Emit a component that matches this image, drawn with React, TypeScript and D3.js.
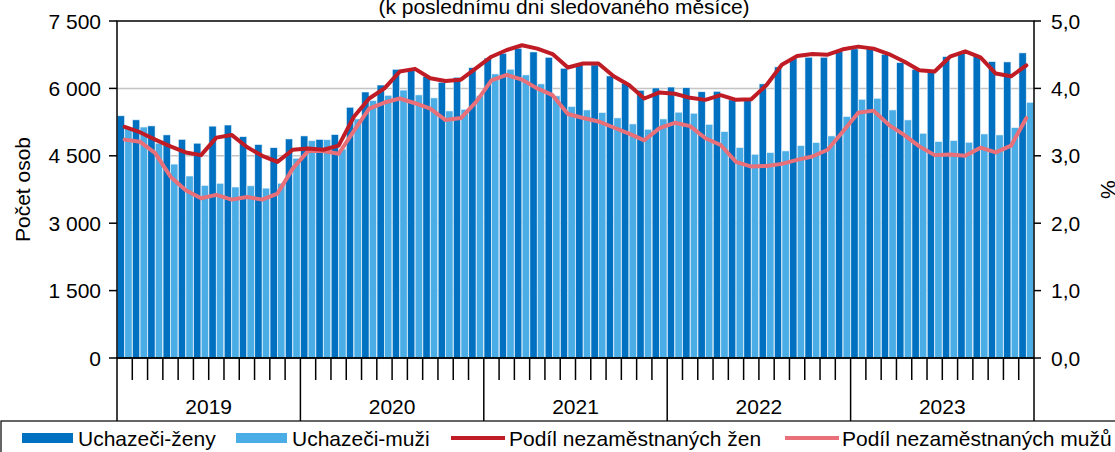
import React from "react";
import * as d3 from "d3";

const years = ["2019", "2020", "2021", "2022", "2023"];
const months = d3.range(60).map((i) => `${years[Math.floor(i / 12)]}-${(i % 12) + 1}`);

const women = [
  5390, 5300, 5165, 4965, 4865, 4780, 5160, 5185, 4925, 4750, 4680, 4875,
  4942, 4865, 4972, 5580, 5920, 6075, 6425, 6430, 6263, 6137, 6248, 6462,
  6675, 6781, 6893, 6811, 6692, 6448, 6522, 6522, 6277, 6114, 5958, 6010,
  6030, 6015, 5925, 5935, 5744, 5744, 6100, 6478, 6671, 6693, 6693, 6819,
  6880, 6915, 6760, 6574, 6426, 6374, 6708, 6782, 6708, 6597, 6589, 6790,
];
const men = [
  5130, 5140, 4780, 4315, 4050, 3840, 3888, 3805, 3832, 3780, 3890, 4445,
  4835, 4857, 4650, 5320, 5728, 5847, 5962, 5855, 5788, 5498, 5535, 5840,
  6322, 6426, 6300, 6100, 5833, 5596, 5520, 5461, 5343, 5209, 5090, 5320,
  5470, 5447, 5201, 5038, 4682, 4534, 4571, 4608, 4727, 4794, 4942, 5372,
  5758, 5780, 5520, 5298, 5001, 4816, 4838, 4801, 4986, 4964, 5127, 5690,
];
const womenPct = [
  3.43, 3.35, 3.24, 3.14, 3.05, 3.01, 3.27, 3.31, 3.13, 3.0, 2.91, 3.09,
  3.11, 3.09, 3.15, 3.58, 3.85, 4.0, 4.25, 4.29, 4.15, 4.11, 4.13, 4.3,
  4.47, 4.57, 4.64, 4.59, 4.51, 4.31, 4.37, 4.37, 4.18, 4.05, 3.85, 3.94,
  3.92, 3.86, 3.83, 3.9, 3.83, 3.84, 4.05, 4.35, 4.48, 4.51, 4.5, 4.58,
  4.62, 4.59, 4.51, 4.4, 4.27, 4.25, 4.47, 4.55, 4.46, 4.22, 4.18, 4.34,
];
const menPct = [
  3.24, 3.21, 3.04, 2.69, 2.49, 2.37, 2.42, 2.35, 2.39, 2.35, 2.44, 2.81,
  3.07, 3.07, 3.03, 3.37, 3.7, 3.79, 3.85, 3.78, 3.7, 3.53, 3.56, 3.8,
  4.12, 4.2, 4.13, 4.0, 3.9, 3.62, 3.56, 3.51, 3.42, 3.33, 3.23, 3.41,
  3.49, 3.44, 3.26, 3.16, 2.91, 2.84, 2.85, 2.88, 2.94, 2.99, 3.09, 3.36,
  3.64, 3.67, 3.46, 3.31, 3.14, 3.01, 3.02, 3.0, 3.12, 3.05, 3.15, 3.56,
];
const leftTicks = [0, 1500, 3000, 4500, 6000, 7500];
const rightTicks = [0, 1, 2, 3, 4, 5];
const seriesNames = ["Uchazeči-ženy", "Uchazeči-muži", "Podíl nezaměstnaných žen", "Podíl nezaměstnaných mužů"];
const title = "(k poslednímu dni sledovaného měsíce)";

const C_DARK = "#0070c0";
const C_LIGHT = "#4aade6";
const C_RED = "#c01c26";
const C_PINK = "#e96f79";
const FONT = "'Liberation Sans', Arial, sans-serif";

export default function App() {
  const W = 1115, H = 452;
  const L = 117, R = 1034, T = 21, B = 358;
  const x = d3.scaleBand<string>().domain(months).range([L, R]).padding(0);
  const inner = d3.scaleBand<string>().domain(["w", "m"]).range([0, x.bandwidth()]).paddingInner(0.04).paddingOuter(0.03);
  const y = d3.scaleLinear().domain([0, 7500]).range([B, T]);
  const y2 = d3.scaleLinear().domain([0, 5]).range([B, T]);
  const fmtL = (v: number) => d3.format(",")(v).replace(/,/g, " ");
  const fmtR = (v: number) => d3.format(".1f")(v).replace(".", ",");
  const cx = (i: number) => (x(months[i]) as number) + x.bandwidth() / 2;
  const line = d3.line<number>().x((_, i) => cx(i)).y((d) => y2(d));
  const yearW = x.bandwidth() * 12;

  const legendY = 438;
  const legendItems = [
    { x: 22, tx: 78, type: "rect", color: C_DARK },
    { x: 236, tx: 292, type: "rect", color: C_LIGHT },
    { x: 451, tx: 509, type: "line", color: C_RED },
    { x: 785, tx: 842, type: "line", color: C_PINK },
  ];

  return (
    <svg width={W} height={H} style={{ position: "absolute", left: 0, top: 0, fontFamily: FONT }}>
      <rect x={0} y={0} width={W} height={H} fill="#fff" />
      <text x={564} y={14} fontSize={21} textAnchor="middle" fill="#000">{title}</text>
      {leftTicks.filter((t) => t > 0 && t < 7500).map((t) => (
        <line key={"g" + t} x1={L} x2={R} y1={y(t)} y2={y(t)} stroke="#c4c4c4" strokeWidth={1.5} />
      ))}
      {months.map((m, i) => (
        <g key={m}>
          <rect x={(x(m) as number) + (inner("w") as number)} y={y(women[i])} width={inner.bandwidth()} height={B - y(women[i])} fill={C_DARK} stroke="#e8f3fb" strokeWidth={0.6} />
          <rect x={(x(m) as number) + (inner("m") as number)} y={y(men[i])} width={inner.bandwidth()} height={B - y(men[i])} fill={C_LIGHT} stroke="#e8f3fb" strokeWidth={0.6} />
        </g>
      ))}
      <path d={line(menPct) as string} fill="none" stroke={C_PINK} strokeWidth={4} strokeLinejoin="round" strokeLinecap="round" />
      <path d={line(womenPct) as string} fill="none" stroke={C_RED} strokeWidth={4} strokeLinejoin="round" strokeLinecap="round" />
      <rect x={L} y={T} width={R - L} height={B - T} fill="none" stroke="#000" strokeWidth={1.5} />
      {leftTicks.map((t) => (
        <g key={"l" + t}>
          <line x1={L - 8} x2={L} y1={y(t)} y2={y(t)} stroke="#000" strokeWidth={1.5} />
          <text x={101} y={y(t)} dy="0.36em" fontSize={21} textAnchor="end" fill="#000">{fmtL(t)}</text>
        </g>
      ))}
      {rightTicks.map((t) => (
        <g key={"r" + t}>
          <line x1={R} x2={R + 7} y1={y2(t)} y2={y2(t)} stroke="#000" strokeWidth={1.5} />
          <text x={1051} y={y2(t)} dy="0.36em" fontSize={21} textAnchor="start" fill="#000">{fmtR(t)}</text>
        </g>
      ))}
      <text transform={`translate(30,${(T + B) / 2}) rotate(-90)`} fontSize={21} textAnchor="middle" fill="#000">Počet osob</text>
      <text transform={`translate(1101,${(T + B) / 2}) rotate(90)`} fontSize={21} textAnchor="middle" fill="#000">%</text>
      {months.map((m, i) => i % 12 !== 0 ? (
        <line key={"t" + m} x1={x(m) as number} x2={x(m) as number} y1={B} y2={380} stroke="#000" strokeWidth={1.5} />
      ) : null)}
      {years.map((yr, k) => (
        <g key={yr}>
          <line x1={L + k * yearW} x2={L + k * yearW} y1={B} y2={421} stroke="#000" strokeWidth={1.5} />
          <text x={L + k * yearW + yearW / 2} y={414} fontSize={21} textAnchor="middle" fill="#000">{yr}</text>
        </g>
      ))}
      <line x1={R} x2={R} y1={B} y2={421} stroke="#000" strokeWidth={1.5} />
      <line x1={L} x2={R} y1={B} y2={B} stroke="#000" strokeWidth={1.5} />
      <rect x={1} y={421} width={W + 10} height={40} fill="none" stroke="#000" strokeWidth={1.2} />
      {legendItems.map((it, k) => (
        <g key={"lg" + k}>
          {it.type === "rect" ? (
            <rect x={it.x} y={legendY - 5} width={51} height={10} fill={it.color} />
          ) : (
            <line x1={it.x} x2={it.x + 54} y1={legendY} y2={legendY} stroke={it.color} strokeWidth={4} />
          )}
          <text x={it.tx} y={legendY + 7.5} fontSize={21} fill="#000">{seriesNames[k]}</text>
        </g>
      ))}
    </svg>
  );
}
